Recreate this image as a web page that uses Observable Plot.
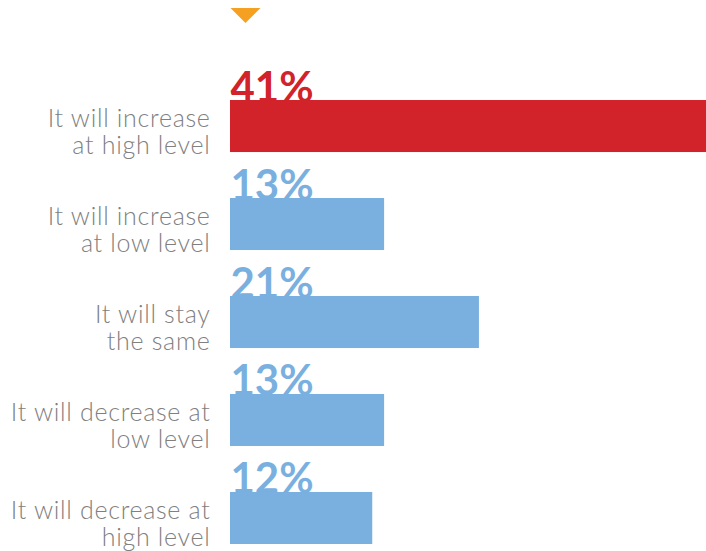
<!DOCTYPE html>
<html>
<head>
<meta charset="utf-8">
<script src="https://cdn.jsdelivr.net/npm/d3@7"></script>
<script src="https://cdn.jsdelivr.net/npm/@observablehq/plot@0.6"></script>
<style>
  html, body { margin: 0; padding: 0; background: #fff; overflow: hidden; }
  svg { display: block; }
</style>
</head>
<body>
<div id="chart"></div>
<script>
const categories = [
  "It will increase\nat high level",
  "It will increase\nat low level",
  "It will stay\nthe same",
  "It will decrease at\nlow level",
  "It will decrease at\nhigh level"
];
const values = [41, 13, 21, 13, 12];
const valueLabels = ["41%", "13%", "21%", "13%", "12%"];
const highlighted = [true, false, false, false, false];

const data = categories.map((c, i) => ({
  category: c, value: values[i], label: valueLabels[i], hi: highlighted[i]
}));

const RED = "#d2232a", BLUE = "#7ab0e0", ORANGE = "#f5a020", GRAY = "#808080";
const color = d => d.hi ? RED : BLUE;

// flat downward triangle symbol (width 2r, height r)
const flatDown = {
  draw(ctx, size) {
    const r = Math.sqrt(size / Math.PI);
    ctx.moveTo(-r, -r / 2);
    ctx.lineTo(r, -r / 2);
    ctx.lineTo(0, r / 2);
    ctx.closePath();
  }
};

const chart = Plot.plot({
  width: 706,
  height: 551,
  marginLeft: 230,
  marginRight: 0,
  marginTop: 0,
  marginBottom: 0,
  x: { domain: [0, 41], range: [230, 716], axis: null },
  y: { domain: categories, range: [100, 544], paddingInner: 0.469, paddingOuter: 0, round: false, axis: null },
  style: { overflow: "visible" },
  marks: [
    Plot.dot([highlighted.indexOf(true)], {
      x: () => 0, frameAnchor: "top", symbol: flatDown, r: 15,
      fill: ORANGE, stroke: null, dx: 15, dy: 15
    }),
    Plot.text(data, {
      x: () => 0, y: "category", text: "label",
      textAnchor: "start", lineAnchor: "bottom",
      dy: -25, fill: color,
      fontFamily: "Lato, 'DejaVu Sans', sans-serif", fontWeight: "bold", fontSize: 42
    }),
    Plot.barX(data, {
      x: "value", y: "category", fill: color
    }),
    Plot.text(data, {
      x: () => 0, y: "category", text: "category",
      textAnchor: "end", lineAnchor: "middle", lineHeight: 1.08,
      dx: -20, dy: 5.5, fill: GRAY,
      fontFamily: "Lato, 'DejaVu Sans', sans-serif", fontWeight: 300, fontSize: 25
    })
  ]
});
d3.select(chart).selectAll("g[aria-label='text']")
  .filter((d, i) => i === 1)
  .style("letter-spacing", "0.7px");
document.getElementById("chart").append(chart);
</script>
</body>
</html>
